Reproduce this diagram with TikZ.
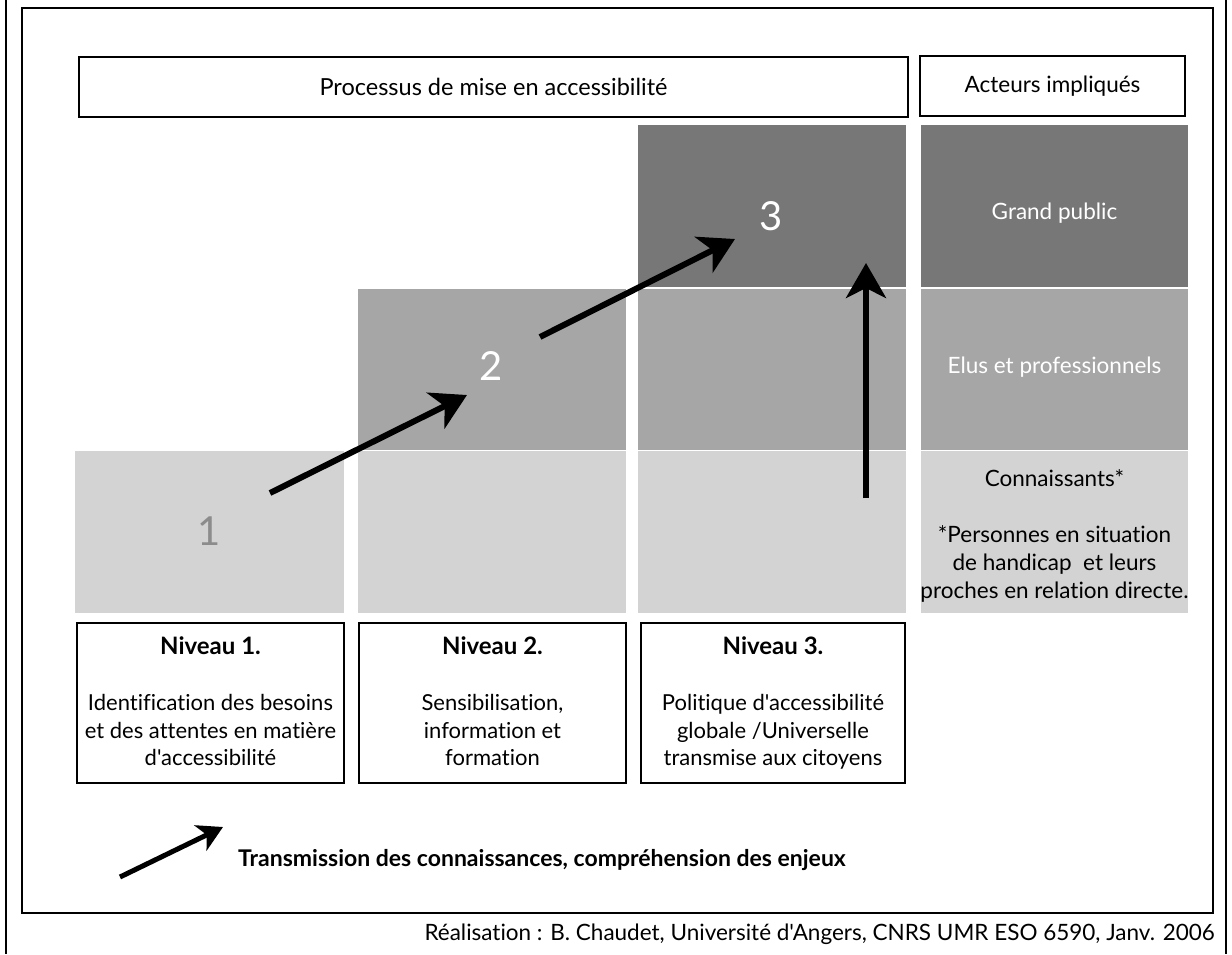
\documentclass[tikz,border=0pt]{standalone}
\usepackage{fontspec}
\setmainfont{Lato}[Ligatures={TeXOff,CommonOff}]
\usetikzlibrary{arrows.meta}
\definecolor{darkg}{HTML}{777777}
\definecolor{medg}{HTML}{A6A6A6}
\definecolor{lightg}{HTML}{D3D3D3}
\definecolor{numg}{HTML}{8C8C8C}
\begin{document}
\begin{tikzpicture}[x=1pt,y=-1pt,
  frame/.style={draw=black, line width=2pt},
  cell/.style={minimum width=268pt, minimum height=161.5pt, inner sep=0pt, outer sep=0pt, anchor=north west},
  darkcell/.style={cell, fill=darkg},
  medcell/.style={cell, fill=medg},
  lightcell/.style={cell, fill=lightg},
  headbox/.style={draw=black, line width=2pt, inner sep=0pt, anchor=north west, minimum height=60pt},
  levelbox/.style={draw=black, line width=2pt, inner sep=0pt, anchor=north west, minimum height=160pt},
  leveltitle/.style={anchor=base, inner sep=0pt, font=\fontsize{24}{28}\selectfont\bfseries},
  leveltext/.style={align=center, anchor=north, inner sep=0pt, font=\fontsize{22}{27.7}\selectfont},
  actortext/.style={align=center, font=\fontsize{22.5}{28}\selectfont},
  numtext/.style={font=\fontsize{40}{40}\selectfont, inner sep=0pt},
  bigarrow/.style={line width=6pt, -{Stealth[length=35pt,width=40pt,inset=10pt]}},
  legarrow/.style={line width=5pt, -{Stealth[length=25pt,width=28pt,inset=7pt]}}
]
\useasboundingbox (0,0) rectangle (1232,954);
% outer lines and frame
\coordinate (oltop) at (6,0); \coordinate (olbot) at (6,954);
\coordinate (ortop) at (1226,0); \coordinate (orbot) at (1226,954);
\draw[line width=2.5pt] (oltop) -- (olbot);
\draw[line width=2.5pt] (ortop) -- (orbot);
\node[frame, inner sep=0pt, outer sep=0pt, anchor=north west, minimum width=1191pt, minimum height=905pt] (innerframe) at (22,8) {};
% headers
\node[headbox, minimum width=829pt, font=\fontsize{23.5}{27}\selectfont] (hproc) at (78,56) {Processus de mise en accessibilité};
\node[headbox, minimum width=265pt, font=\fontsize{22.5}{26}\selectfont] (hact) at (919,55) {Acteurs impliqués};
% cells
\node[lightcell, minimum width=269pt] (c1l) at (75,451) {};
\node[medcell] (c2m) at (358,288.5) {};
\node[lightcell] (c2l) at (358,451) {};
\node[darkcell] (c3d) at (638,125) {};
\node[medcell] (c3m) at (638,288.5) {};
\node[lightcell] (c3l) at (638,451) {};
\node[darkcell, minimum width=267pt] (c4d) at (921,125) {};
\node[medcell, minimum width=267pt] (c4m) at (921,288.5) {};
\node[lightcell, minimum width=267pt] (c4l) at (921,451) {};
% numbers
\node[numtext, text=numg] (n1) at (209,531) {1};
\node[numtext, text=white] (n2) at (491,366) {2};
\node[numtext, text=white] (n3) at (771,216) {3};
% actor texts
\node[actortext, text=white] (tgp) at (1054.5,213) {Grand public};
\node[actortext, text=white] (tep) at (1054.5,367) {Elus et professionnels};
\node[actortext, text=black] (tco) at (1054.5,478) {Connaissants*};
\node[actortext, text=black, anchor=north] (tpe) at (1054.5,522) {*Personnes en situation\\de handicap~~et leurs\\proches en relation directe.};
% level boxes
\node[levelbox, minimum width=267pt] (b1) at (76,622) {};
\node[levelbox, minimum width=267pt] (b2) at (358,622) {};
\node[levelbox, minimum width=264pt] (b3) at (640,622) {};
\node[leveltitle] (b1h) at (b1.center |- 0,654) {Niveau 1.};
\node[leveltitle] (b2h) at (b2.center |- 0,654) {Niveau 2.};
\node[leveltitle] (b3h) at (b3.center |- 0,654) {Niveau 3.};
\node[leveltext] (b1t) at (b1.center |- 0,694) {Identification des besoins\\et des attentes en matière\\d'accessibilité};
\node[leveltext] (b2t) at (b2.center |- 0,694) {Sensibilisation,\\information et\\formation};
\node[leveltext] (b3t) at (b3.center |- 0,694) {Politique d'accessibilité\\globale /Universelle\\transmise aux citoyens};
% arrows
\coordinate (a1s) at (270,493); \coordinate (a1e) at (467,395);
\coordinate (a2s) at (540,337); \coordinate (a2e) at (735,239);
\coordinate (a3s) at (866,498); \coordinate (a3e) at (866,263);
\draw[bigarrow] (a1s) -- (a1e);
\draw[bigarrow] (a2s) -- (a2e);
\draw[bigarrow] (a3s) -- (a3e);
% legend
\coordinate (ls) at (120,877); \coordinate (le) at (223,827);
\draw[legarrow] (ls) -- (le);
\node[anchor=west, inner sep=0pt, font=\fontsize{23}{27}\selectfont\bfseries] (legtext) at (238,860) {Transmission des connaissances, compréhension des enjeux};
% credits
\node[anchor=east, inner sep=0pt, font=\fontsize{22.5}{26}\selectfont] (credit) at (1215,934) {Réalisation : B. Chaudet, Université d'Angers, CNRS UMR ESO 6590, Janv. 2006};
\end{tikzpicture}
\end{document}
